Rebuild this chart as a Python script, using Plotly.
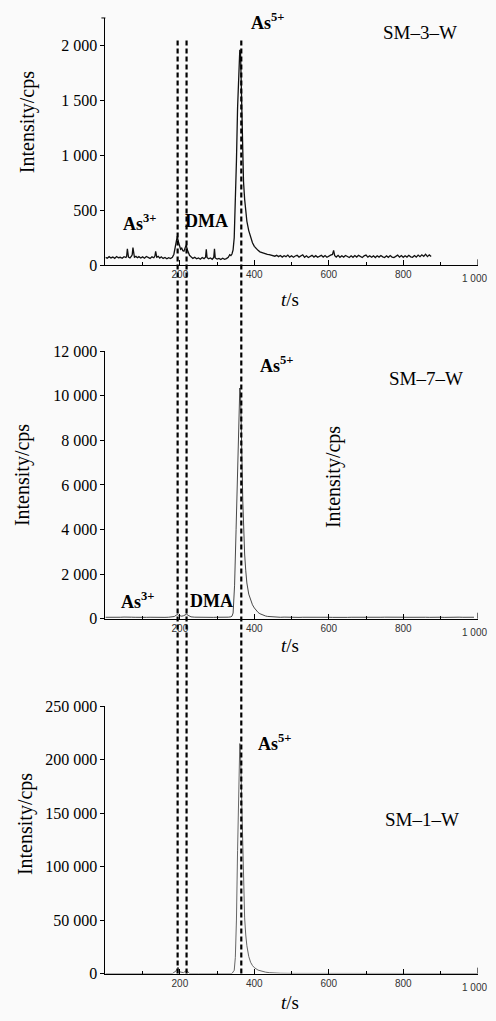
import plotly.graph_objects as go

# ---------------- data ----------------
# SM-3-W
t1 = [0, 5, 10, 15, 20, 25, 30, 35, 40, 45, 50, 55, 57, 59, 62, 66, 70, 72, 74, 78,
      82, 86, 90, 95, 100, 105, 110, 115, 120, 125, 130, 133, 135, 138, 142, 146, 150, 155, 160, 165,
      170, 175, 180, 184, 187, 190, 193, 196, 199, 202, 205, 208, 211, 214, 217, 220, 223, 226, 230, 235,
      240, 245, 250, 255, 260, 265, 269, 271, 273, 277, 282, 287, 291, 293, 295, 300, 305, 310, 315, 320,
      325, 330, 334, 337, 340, 343, 346, 349, 352, 355, 358, 361, 363, 365, 367, 369, 371, 374, 377, 380,
      385, 390, 395, 400, 405, 410, 415, 420, 425, 430, 435, 440, 445, 450, 455, 460, 465, 470, 475, 480,
      485, 490, 495, 500, 505, 510, 515, 520, 525, 530, 535, 540, 545, 550, 555, 560, 565, 570, 575, 580,
      585, 590, 595, 600, 605, 610, 613, 616, 620, 625, 630, 635, 640, 645, 650, 655, 660, 665, 670, 675,
      680, 685, 690, 695, 700, 705, 710, 715, 720, 725, 730, 735, 740, 745, 750, 755, 760, 765, 770, 775,
      780, 785, 790, 795, 800, 805, 810, 815, 820, 825, 830, 835, 840, 845, 850, 855, 860, 865, 870, 875]
y1 = [72, 64, 78, 66, 74, 62, 79, 68, 72, 63, 77, 70, 80, 150, 74, 66, 82, 95, 160, 72,
      80, 68, 78, 66, 76, 64, 79, 70, 62, 76, 68, 84, 125, 72, 80, 64, 76, 62, 70, 58,
      68, 60, 72, 100, 160, 220, 262, 215, 170, 145, 155, 132, 128, 150, 185, 140, 108, 90, 76, 62,
      72, 58, 66, 54, 70, 60, 72, 145, 70, 58, 66, 54, 70, 150, 66, 56, 62, 52, 64, 54,
      60, 72, 95, 88, 102, 140, 250, 560, 950, 1430, 1800, 1960, 1930, 1660, 1260, 960, 760, 600, 480, 400,
      315, 255, 205, 172, 150, 135, 122, 115, 108, 104, 98, 96, 92, 90, 82, 90, 78, 88, 74, 86,
      78, 92, 74, 86, 72, 84, 90, 74, 86, 95, 72, 86, 70, 84, 90, 74, 87, 72, 85, 90,
      74, 88, 72, 84, 92, 98, 135, 86, 74, 90, 72, 86, 74, 88, 76, 70, 86, 72, 88, 74,
      90, 76, 70, 86, 92, 74, 86, 72, 85, 70, 86, 74, 88, 76, 70, 85, 72, 88, 74, 70,
      84, 92, 74, 88, 72, 86, 74, 90, 76, 72, 88, 74, 92, 78, 95, 80, 100, 78, 94, 80]

# SM-7-W
t2 = [0, 10, 20, 30, 40, 50, 60, 70, 80, 90, 100, 110, 120, 130, 140, 150, 160, 170, 180, 185,
      190, 193, 196, 200, 205, 210, 214, 218, 222, 226, 230, 240, 250, 260, 270, 280, 290, 300, 310, 320,
      330, 337, 340, 343, 347, 351, 355, 358, 361, 363, 365, 367, 369, 371, 374, 377, 380, 385, 390, 395,
      400, 405, 410, 415, 420, 425, 430, 435, 440, 445, 450, 460, 470, 480, 490, 500, 510, 520, 530, 540,
      550, 560, 570, 580, 590, 600, 610, 620, 630, 640, 650, 660, 670, 680, 690, 700, 710, 720, 730, 740,
      750, 760, 770, 780, 790, 800, 810, 820, 830, 840, 850, 860, 870, 880, 890, 900, 910, 920, 930, 940,
      950, 960, 970, 980, 990]
y2 = [60, 55, 65, 58, 62, 70, 55, 64, 60, 52, 66, 58, 62, 55, 60, 68, 57, 63, 70, 95,
      150, 190, 150, 120, 110, 130, 170, 200, 150, 100, 80, 65, 58, 62, 55, 60, 57, 62, 55, 60,
      65, 80, 110, 250, 1500, 4000, 7000, 9000, 10350, 10100, 8900, 7000, 5300, 4000, 2900, 2150, 1600, 1100, 800, 620,
      480, 370, 280, 220, 180, 150, 120, 100, 90, 80, 72, 65, 60, 68, 58, 63, 70, 56, 62, 66,
      58, 64, 60, 55, 67, 61, 57, 65, 60, 70, 56, 62, 58, 66, 60, 55, 63, 68, 57, 62,
      65, 58, 61, 70, 56, 63, 59, 66, 60, 57, 64, 62, 58, 67, 60, 63, 56, 65, 61, 58,
      66, 60, 63, 57, 62]

# SM-1-W
t3 = [0, 50, 100, 150, 180, 190, 195, 200, 210, 218, 226, 250, 300, 340, 343, 346, 349, 352, 355, 358,
      361, 363, 365, 367, 369, 371, 374, 377, 380, 385, 390, 395, 400, 410, 420, 430, 440, 450, 470, 500,
      550, 600, 700, 800, 900, 1000]
y3 = [0, 0, 0, 0, 0, 2500, 6000, 1500, 800, 3000, 0, 0, 0, 0, 1500, 3000, 15000, 50000, 115000, 185000,
      215000, 205000, 175000, 135000, 100000, 75000, 52000, 36000, 26000, 16000, 10500, 7500, 5500, 3200, 2000, 1300, 800, 500, 250, 100,
      50, 0, 0, 0, 0, 0]

peak_times = [194, 218, 365]

yt1 = [0, 500, 1000, 1500, 2000]
yt1_text = ["0", "500", "1 000", "1 500", "2 000"]
yt2 = [0, 2000, 4000, 6000, 8000, 10000, 12000]
yt2_text = ["0", "2 000", "4 000", "6 000", "8 000", "10 000", "12 000"]
yt3 = [0, 50000, 100000, 150000, 200000, 250000]
yt3_text = ["0", "50 000", "100 000", "150 000", "200 000", "250 000"]
xt = [200, 400, 600, 800]
xt_text = ["200", "400", "600", "800"]
x_end = 1000
x_end_text = "1 000"

# ---------------- figure ----------------
# The page keeps the browser's 8px body margin, so the figure is sized to
# fill the 496x1021 window exactly inside that margin.
PAGE_W, PAGE_H, M = 496, 1021, 8
W, H = PAGE_W - 2 * M, PAGE_H - 2 * M
SERIF = "Liberation Serif, Times New Roman, serif"
SANS = "Liberation Sans, Arial, sans-serif"


def px_x(p):
    return (p - M) / W


def px_y(p):
    return 1 - (p - M) / H


fig = go.Figure()
fig.add_trace(go.Scatter(x=t1, y=y1, mode="lines", line=dict(color="#111111", width=1.3),
                         xaxis="x", yaxis="y", showlegend=False))
fig.add_trace(go.Scatter(x=t2, y=y2, mode="lines", line=dict(color="#333333", width=0.9),
                         xaxis="x2", yaxis="y2", showlegend=False))
fig.add_trace(go.Scatter(x=t3, y=y3, mode="lines", line=dict(color="#555555", width=0.9),
                         xaxis="x3", yaxis="y3", showlegend=False))

xdom = [px_x(105.4), px_x(477.7)]
panels = [
    ("y", [px_y(261.5), px_y(10)], [0, 2250], yt1, yt1_text, 261.5),
    ("y2", [px_y(621), px_y(349)], [0, 12000], yt2, yt2_text, 621),
    ("y3", [px_y(982), px_y(710)], [0, 250000], yt3, yt3_text, 982),
]

for i, (yname, ydom, yrange, tv, tt, base_px) in enumerate(panels):
    sfx = "" if i == 0 else str(i + 1)
    xa = dict(domain=xdom, range=[0, 1000], anchor=yname, showgrid=False, zeroline=False,
              showline=True, linecolor="black", linewidth=1,
              ticks="inside", ticklen=5, tickwidth=1, tickcolor="black",
              tickvals=xt, ticktext=xt_text,
              tickfont=dict(family=SANS, size=10, color="#333333"),
              minor=dict(ticks="inside", ticklen=3, tickwidth=1, tickcolor="black", dtick=100, tick0=0))
    ya = dict(domain=ydom, range=yrange, anchor="x" + sfx, showgrid=False, zeroline=False,
              showline=True, linecolor="black", linewidth=1,
              ticks="outside", ticklen=4, tickwidth=1, tickcolor="black",
              tickvals=tv, ticktext=tt,
              tickfont=dict(family=SERIF, size=16, color="black"))
    fig.layout["xaxis" + sfx] = xa
    fig.layout["yaxis" + sfx] = ya
    # end tick and label at t = 1000 (label kept inside the page)
    fig.add_shape(type="line", xref="x" + sfx, yref="paper", x0=x_end, x1=x_end,
                  y0=px_y(base_px), y1=px_y(base_px - 6), line=dict(color="black", width=1))
    fig.add_annotation(text=x_end_text, xref="paper", yref="paper", x=px_x(489), y=px_y(base_px + 14),
                       xanchor="right", yanchor="middle", showarrow=False,
                       font=dict(family=SANS, size=10, color="#333333"))

# end tick at the top of the first y axis
fig.add_shape(type="line", xref="paper", yref="paper",
              x0=px_x(101.4), x1=px_x(105.4), y0=px_y(10), y1=px_y(10),
              line=dict(color="black", width=1))

# dashed reference lines through all panels
for pt in peak_times:
    fig.add_shape(type="line", xref="x3", yref="paper", x0=pt, x1=pt,
                  y0=px_y(982), y1=px_y(33),
                  line=dict(color="black", width=2.2, dash="5px,3px"))

annots = [
    # (text, x px, y px, size, bold, angle)
    ("Intensity/cps", 27, 116, 20, False, -90),
    ("Intensity/cps", 22, 475, 20, False, -90),
    ("Intensity/cps", 25, 830, 20, False, -90),
    ("Intensity/cps", 333, 477, 20, False, -90),
    ("<i>t</i>/s", 290, 296, 19, False, 0),
    ("<i>t</i>/s", 290, 648, 19, False, 0),
    ("<i>t</i>/s", 290, 1011, 19, False, 0),
    ("As<sup>3+</sup>", 140, 218, 18, True, 0),
    ("DMA", 206, 217, 18, True, 0),
    ("As<sup>5+</sup>", 268, 14, 18, True, 0),
    ("SM–3–W", 420, 25, 19, False, 0),
    ("As<sup>3+</sup>", 138, 603, 18, True, 0),
    ("DMA", 211, 603, 18, True, 0),
    ("As<sup>5+</sup>", 277, 363, 18, True, 0),
    ("SM–7–W", 426, 377, 19, False, 0),
    ("As<sup>5+</sup>", 275, 747, 18, True, 0),
    ("SM–1–W", 422, 825, 19, False, 0),
]
for text, x, y, size, bold, ang in annots:
    fig.add_annotation(text=("<b>" + text + "</b>") if bold else text,
                       xref="paper", yref="paper", x=px_x(x), y=px_y(y),
                       xanchor="center", yanchor="middle", showarrow=False, textangle=ang,
                       font=dict(family=SERIF, size=size, color="black"))

fig.update_layout(width=W, height=H, autosize=False, margin=dict(l=0, r=0, t=0, b=0, pad=0),
                  paper_bgcolor="#fafafa", plot_bgcolor="#fafafa", showlegend=False)

fig.write_html("out.html", config={"displayModeBar": False, "responsive": False},
               post_script="document.body.style.background='#fafafa';")
